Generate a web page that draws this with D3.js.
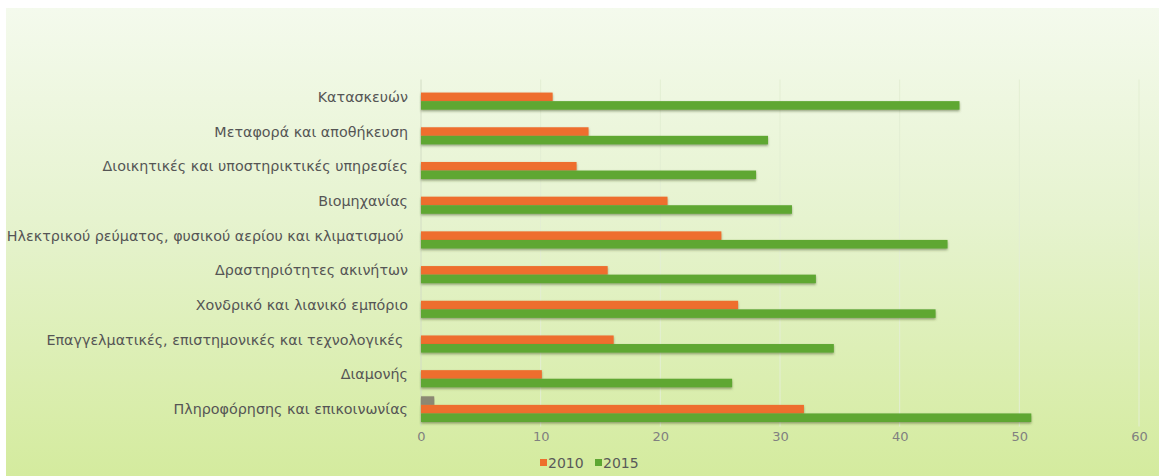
<!DOCTYPE html>
<html lang="el">
<head>
<meta charset="utf-8">
<title>Chart</title>
<script src="https://cdn.jsdelivr.net/npm/d3@7"></script>
<style>
body { margin: 0; background: #fff; }
svg { display: block; font-family: "DejaVu Sans", "Noto Sans", sans-serif; }
</style>
</head>
<body>
<div id="chart"></div>
<script>
// data, top to bottom as in the picture
var categories = [
  "Κατασκευών",
  "Μεταφορά και αποθήκευση",
  "Διοικητικές και υποστηρικτικές υπηρεσίες",
  "Βιομηχανίας",
  "Ηλεκτρικού ρεύματος, φυσικού αερίου και κλιματισμού\u00A0",
  "Δραστηριότητες ακινήτων",
  "Χονδρικό και λιανικό εμπόριο",
  "Επαγγελματικές, επιστημονικές και τεχνολογικές\u00A0",
  "Διαμονής",
  "Πληροφόρησης και επικοινωνίας"
];
var values2010 = [11, 14, 13, 20.6, 25.1, 15.6, 26.5, 16.1, 10.1, 32];
var values2015 = [45, 29, 28, 31, 44, 33, 43, 34.5, 26, 51];
var valuesOther = [0, 0, 0, 0, 0, 0, 0, 0, 0, 1.1];   // third series, no legend entry
var seriesNames = ["other", "2010", "2015"];
var legendNames = ["2010", "2015"];
var xTicks = [0, 10, 20, 30, 40, 50, 60];

var colors = { other: "#8c8873", "2010": "#ee6e2d", "2015": "#5ea733" };

var W = 1159, H = 476;

var svg = d3.select("#chart").append("svg")
    .attr("width", W)
    .attr("height", H);

var defs = svg.append("defs");
var grad = defs.append("linearGradient")
    .attr("id", "bg").attr("x1", 0).attr("y1", 0).attr("x2", 0).attr("y2", 1);
grad.append("stop").attr("offset", "0%").attr("stop-color", "#f4faed");
grad.append("stop").attr("offset", "45%").attr("stop-color", "#e6f3cf");
grad.append("stop").attr("offset", "100%").attr("stop-color", "#d4eb9e");

var shadow = defs.append("filter").attr("id", "shadow")
    .attr("x", "-5%").attr("y", "-50%").attr("width", "110%").attr("height", "220%");
shadow.append("feDropShadow")
    .attr("dx", 0).attr("dy", 1.5).attr("stdDeviation", 1.2)
    .attr("flood-color", "#3a4a20").attr("flood-opacity", 0.5);

// background panel
svg.append("rect")
    .attr("x", 6).attr("y", 8)
    .attr("width", W - 6).attr("height", H - 8)
    .attr("fill", "url(#bg)");

var x = d3.scaleLinear().domain([0, 60]).range([421, 1139]);
var y = d3.scaleBand().domain(categories).range([79.5, 426.5])
    .paddingInner(0.26).paddingOuter(0.13);
var ySub = d3.scaleBand().domain(seriesNames).range([0, y.bandwidth()]);

// gridlines
svg.append("g")
  .selectAll("line")
  .data(xTicks.slice(1))
  .enter().append("line")
    .attr("x1", function(d) { return x(d); })
    .attr("x2", function(d) { return x(d); })
    .attr("y1", 79.5).attr("y2", 426.5)
    .attr("stroke", "#e3eed3")
    .attr("stroke-width", 1);

// left axis line
svg.append("line")
    .attr("x1", x(0)).attr("x2", x(0))
    .attr("y1", 79.5).attr("y2", 426.5)
    .attr("stroke", "#d2dcc4");

// bars
var rows = categories.map(function(c, i) {
  return { cat: c, other: valuesOther[i], "2010": values2010[i], "2015": values2015[i] };
});

var groups = svg.append("g").selectAll("g")
    .data(rows)
    .enter().append("g")
    .attr("transform", function(d) { return "translate(0," + y(d.cat) + ")"; });

groups.selectAll("rect")
    .data(function(d) { return seriesNames.map(function(s) { return { key: s, value: d[s] }; }); })
    .enter().append("rect")
    .filter(function(d) { return d.value > 0; })
    .attr("x", x(0))
    .attr("y", function(d) { return ySub(d.key); })
    .attr("width", function(d) { return x(d.value) - x(0); })
    .attr("height", ySub.bandwidth())
    .attr("fill", function(d) { return colors[d.key]; })
    .attr("filter", "url(#shadow)");

// category labels
svg.append("g").selectAll("text")
    .data(categories)
    .enter().append("text")
    .attr("x", 408)
    .attr("y", function(d) { return y(d) + y.bandwidth() / 2; })
    .attr("dy", "0.35em")
    .attr("text-anchor", "end")
    .attr("font-size", 14.3)
    .attr("fill", "#555555")
    .style("white-space", "pre")
    .text(function(d) { return d; });

// x axis labels
var xAxis = d3.axisBottom(x).tickValues(xTicks).tickSize(0).tickPadding(0);
var gx = svg.append("g")
    .attr("transform", "translate(0,432)")
    .call(xAxis);
gx.select(".domain").remove();
gx.selectAll("text")
    .attr("font-size", 13)
    .attr("font-family", "\"DejaVu Sans\", \"Noto Sans\", sans-serif")
    .attr("fill", "#808080");

// legend
var legend = svg.append("g").attr("transform", "translate(540,463)");
var item = legend.selectAll("g")
    .data(legendNames)
    .enter().append("g")
    .attr("transform", function(d, i) { return "translate(" + (i * 55) + ",0)"; });
item.append("rect")
    .attr("x", 0).attr("y", -4)
    .attr("width", 7).attr("height", 7)
    .attr("fill", function(d) { return colors[d]; });
item.append("text")
    .attr("x", 8).attr("y", 0)
    .attr("dy", "0.35em")
    .attr("font-size", 14)
    .attr("fill", "#595959")
    .text(function(d) { return d; });
</script>
</body>
</html>
